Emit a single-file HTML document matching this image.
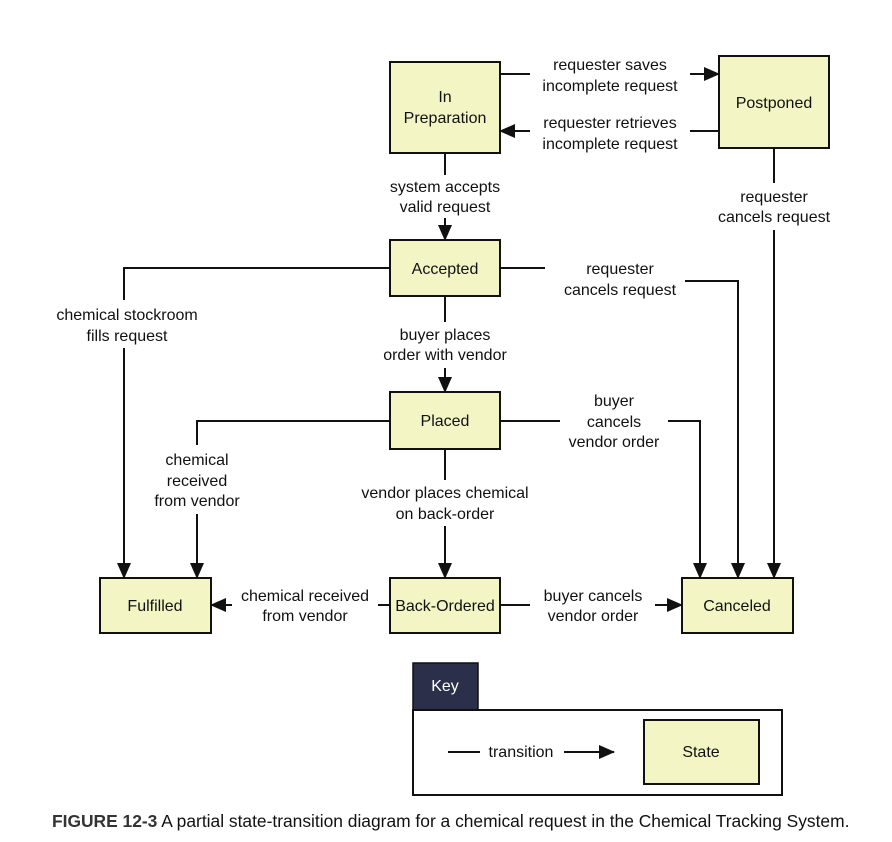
<!DOCTYPE html>
<html><head><meta charset="utf-8"><style>
body{margin:0;background:#fff}
svg{display:block}
text{font-family:"Liberation Sans",sans-serif;font-size:16px;fill:#111;text-anchor:middle}
.b{fill:#f3f5c4;stroke:#111;stroke-width:2}
.l{fill:none;stroke:#111;stroke-width:2}
</style></head><body>
<svg width="892" height="842" viewBox="0 0 892 842" xmlns="http://www.w3.org/2000/svg">
<defs>
<marker id="a2" markerWidth="16" markerHeight="14" refX="15" refY="7" orient="auto" markerUnits="userSpaceOnUse"><path d="M0,0 L16,7 L0,14 z" fill="#111"/></marker></defs>
<rect width="892" height="842" fill="#fff"/>
<rect class="b" x="390" y="62" width="110" height="91"/>
<text x="445" y="102">In</text><text x="445" y="123">Preparation</text>
<rect class="b" x="719" y="56" width="110" height="92"/>
<text x="774" y="108">Postponed</text>
<rect class="b" x="390" y="240" width="110" height="56"/>
<text x="445" y="274">Accepted</text>
<rect class="b" x="390" y="392" width="110" height="57"/>
<text x="445" y="426">Placed</text>
<rect class="b" x="100" y="578" width="111" height="55"/>
<text x="155" y="611">Fulfilled</text>
<rect class="b" x="390" y="578" width="110" height="55"/>
<text x="445" y="611">Back-Ordered</text>
<rect class="b" x="682" y="578" width="111" height="55"/>
<text x="737" y="611">Canceled</text>
<path class="l" d="M500,74 H530"/><path class="l" d="M690,74 H719" marker-end="url(#a2)"/>
<text x="610" y="70">requester saves</text><text x="610" y="91">incomplete request</text>
<path class="l" d="M719,131 H690"/><path class="l" d="M530,131 H500" marker-end="url(#a2)"/>
<text x="610" y="128">requester retrieves</text><text x="610" y="149">incomplete request</text>
<path class="l" d="M445,153 V175"/><path class="l" d="M445,218 V240" marker-end="url(#a2)"/>
<text x="445" y="192">system accepts</text><text x="445" y="212">valid request</text>
<path class="l" d="M774,148 V183"/><path class="l" d="M774,230 V578" marker-end="url(#a2)"/>
<text x="774" y="202">requester</text><text x="774" y="222">cancels request</text>
<path class="l" d="M390,268 H124 V300"/><path class="l" d="M124,348 V578" marker-end="url(#a2)"/>
<text x="127" y="320">chemical stockroom</text><text x="127" y="341">fills request</text>
<path class="l" d="M500,268 H545"/><path class="l" d="M685,281 H738 V578" marker-end="url(#a2)"/>
<text x="620" y="274">requester</text><text x="620" y="295">cancels request</text>
<path class="l" d="M445,296 V322"/><path class="l" d="M445,368 V392" marker-end="url(#a2)"/>
<text x="445" y="340">buyer places</text><text x="445" y="360">order with vendor</text>
<path class="l" d="M390,421 H197 V445"/><path class="l" d="M197,514 V578" marker-end="url(#a2)"/>
<text x="197" y="465">chemical</text><text x="197" y="486">received</text><text x="197" y="506">from vendor</text>
<path class="l" d="M500,421 H560"/><path class="l" d="M668,421 H700 V578" marker-end="url(#a2)"/>
<text x="614" y="406">buyer</text><text x="614" y="427">cancels</text><text x="614" y="447">vendor order</text>
<path class="l" d="M445,449 V480"/><path class="l" d="M445,526 V578" marker-end="url(#a2)"/>
<text x="445" y="498">vendor places chemical</text><text x="445" y="519">on back-order</text>
<path class="l" d="M390,605 H378"/><path class="l" d="M232,605 H211" marker-end="url(#a2)"/>
<text x="305" y="601">chemical received</text><text x="305" y="621">from vendor</text>
<path class="l" d="M500,605 H530"/><path class="l" d="M655,605 H682" marker-end="url(#a2)"/>
<text x="593" y="601">buyer cancels</text><text x="593" y="621">vendor order</text>
<rect x="413" y="663" width="65" height="47" fill="#2b2f4a" stroke="#111" stroke-width="1.5"/>
<text x="445" y="691" style="fill:#fff">Key</text>
<rect x="413" y="710" width="369" height="85" fill="#fff" stroke="#111" stroke-width="2"/>
<path class="l" d="M448,752 H480"/>
<text x="521" y="757">transition</text>
<path class="l" d="M564,752 H614" marker-end="url(#a2)"/>
<rect class="b" x="644" y="720" width="115" height="64"/>
<text x="701" y="757">State</text>
<text x="52" y="827" style="text-anchor:start;font-size:17.4px"><tspan font-weight="bold" fill="#333">FIGURE 12-3</tspan>  A partial state-transition diagram for a chemical request in the Chemical Tracking System.</text>
</svg>
</body></html>
